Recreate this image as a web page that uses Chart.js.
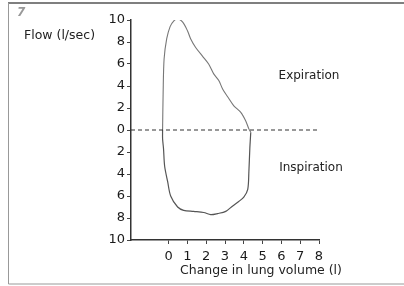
<!DOCTYPE html>
<html>
<head>
<meta charset="utf-8">
<script src="https://cdn.jsdelivr.net/npm/chart.js@4"></script>
<style>
    html, body { margin: 0; padding: 0; background: #fff; }
    #wrap { width: 404px; height: 286px; }
</style>
</head>
<body>
<div id="wrap"><canvas id="chart" width="404" height="286"></canvas></div>
<script>
// Graduations des axes
const volumeTicks = [0, 1, 2, 3, 4, 5, 6, 7, 8];
const flowTicks = [10, 8, 6, 4, 2, 0, -2, -4, -6, -8, -10];

// Boucle débit-volume : expiration (au-dessus de 0)
const expVolume = [-0.32, -0.29, -0.24, -0.1, 0.08, 0.27, 0.48, 0.75, 1.01, 1.17, 1.44, 1.81, 2.13, 2.4, 2.67, 2.88, 3.15, 3.47, 3.84, 4.11, 4.27, 4.37];
const expFlow   = [0, 3.45, 6.45, 8.3, 9.4, 9.9, 10.1, 9.8, 9.0, 8.3, 7.5, 6.7, 6.0, 5.1, 4.5, 3.7, 3.0, 2.2, 1.6, 0.8, 0.1, -0.2];

// Inspiration (en dessous de 0)
const inspVolume = [4.37, 4.35, 4.32, 4.27, 4.21, 4.0, 3.73, 3.41, 3.04, 2.61, 2.24, 1.87, 1.33, 0.8, 0.48, 0.11, -0.05, -0.21, -0.27, -0.32, -0.32];
const inspFlow   = [-0.2, -0.8, -1.7, -3.8, -5.4, -6.1, -6.5, -6.9, -7.4, -7.6, -7.7, -7.5, -7.4, -7.3, -7.0, -6.0, -4.7, -3.3, -1.7, -0.8, 0];

// Ligne pointillée du débit nul
const zeroVolume = [-2, 8];
const zeroFlow = [0, 0];

const FONT = "'DejaVu Sans', sans-serif";

function toPoints(xs, ys) {
    return xs.map((x, i) => ({ x: x, y: ys[i] }));
}

// Cadre et textes du scan
const decorPlugin = {
    id: "decor",
    beforeDraw(chart) {
        const ctx = chart.ctx;
        ctx.save();
        ctx.fillStyle = "#fff";
        ctx.fillRect(0, 0, chart.width, chart.height);
        ctx.strokeStyle = "#555";
        ctx.lineWidth = 1.5;
        ctx.beginPath();
        ctx.moveTo(8, 3);
        ctx.lineTo(404, 3);
        ctx.stroke();
        ctx.strokeStyle = "#999";
        ctx.lineWidth = 1;
        ctx.beginPath();
        ctx.moveTo(8.5, 3);
        ctx.lineTo(8.5, 284);
        ctx.lineTo(404, 284);
        ctx.stroke();
        ctx.restore();
    },
    afterDraw(chart) {
        const ctx = chart.ctx;
        ctx.save();
        ctx.textBaseline = "middle";
        ctx.fillStyle = "#999";
        ctx.font = "italic bold 12px " + FONT;
        ctx.textAlign = "left";
        ctx.fillText("7", 17, 13);

        ctx.fillStyle = "#222";
        ctx.font = "12.5px " + FONT;
        ctx.fillText("Flow (l/sec)", 24, 36);

        ctx.font = "12px " + FONT;
        ctx.textAlign = "center";
        ctx.fillText("Expiration", 309, 76);
        ctx.fillText("Inspiration", 311, 168);

        ctx.font = "12.5px " + FONT;
        ctx.fillText("Change in lung volume (l)", 261, 271);
        ctx.restore();
    }
};

const ctx = document.getElementById("chart").getContext("2d");
new Chart(ctx, {
    type: "scatter",
    data: {
        datasets: [
            {
                data: toPoints(zeroVolume, zeroFlow),
                showLine: true,
                borderColor: "#333",
                borderWidth: 1.2,
                borderDash: [4, 3],
                pointRadius: 0,
            },
            {
                data: toPoints(expVolume, expFlow),
                showLine: true,
                borderColor: "#777",
                borderWidth: 1.1,
                tension: 0.3,
                pointRadius: 0,
            },
            {
                data: toPoints(inspVolume, inspFlow),
                showLine: true,
                borderColor: "#555",
                borderWidth: 1.2,
                tension: 0.3,
                pointRadius: 0,
            },
        ],
    },
    options: {
        responsive: false,
        animation: false,
        layout: { padding: { top: 20, right: 85, bottom: 0, left: 0 } },
        plugins: {
            legend: { display: false },
            tooltip: { enabled: false },
        },
        scales: {
            x: {
                type: "linear",
                min: -2,
                max: 8,
                afterBuildTicks: scale => { scale.ticks = volumeTicks.map(v => ({ value: v })); },
                afterFit: scale => { scale.height = 46; },
                border: { display: true, color: "#333", width: 1.5 },
                grid: { display: true, drawOnChartArea: false, drawTicks: true, tickLength: 4, color: "#444" },
                ticks: {
                    autoSkip: false,
                    maxRotation: 0,
                    padding: 5,
                    color: "#1a1a1a",
                    font: { family: FONT, size: 13 },
                },
            },
            y: {
                type: "linear",
                min: -10,
                max: 10,
                afterBuildTicks: scale => { scale.ticks = flowTicks.map(v => ({ value: v })); },
                afterFit: scale => { scale.width = 131; },
                border: { display: true, color: "#333", width: 1.5 },
                grid: { display: true, drawOnChartArea: false, drawTicks: true, tickLength: 4, color: "#444" },
                ticks: {
                    autoSkip: false,
                    padding: 2,
                    color: "#1a1a1a",
                    font: { family: FONT, size: 13 },
                    callback: value => Math.abs(value),
                },
            },
        },
    },
    plugins: [decorPlugin],
});
</script>
</body>
</html>
